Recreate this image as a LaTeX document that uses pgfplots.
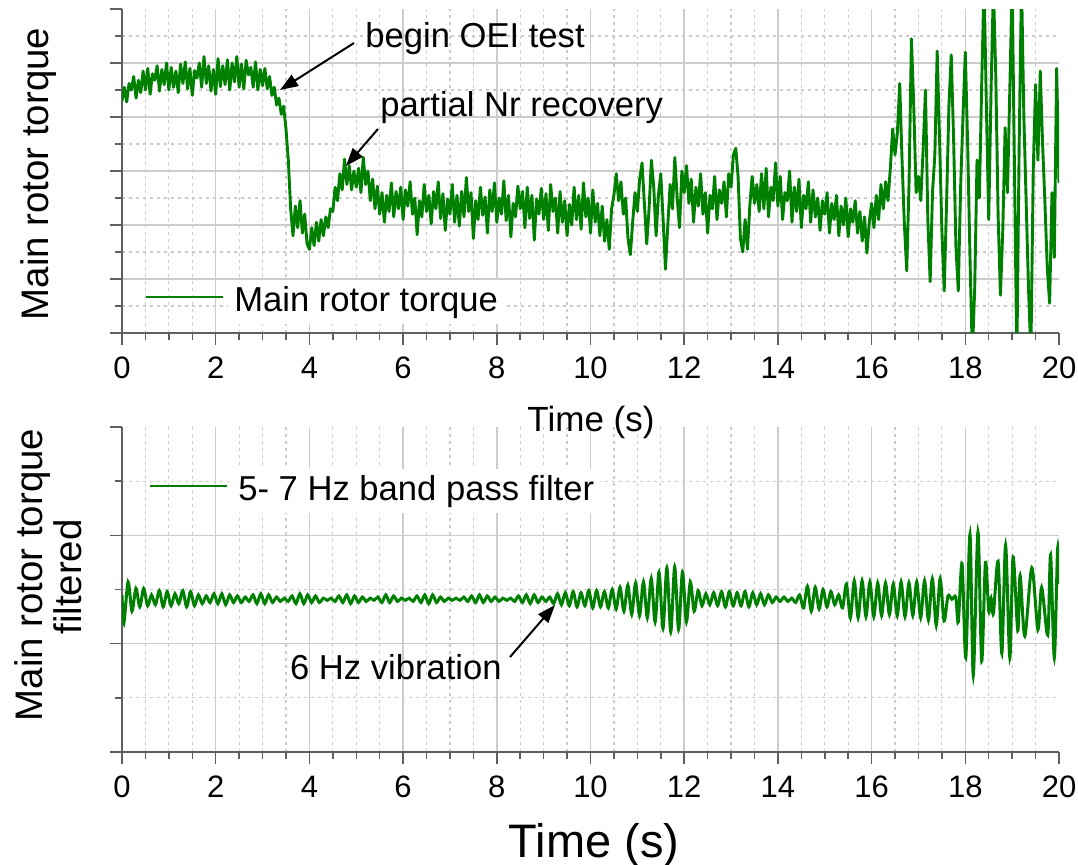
\documentclass[border=0pt]{standalone}
\usepackage{pgfplots}
\pgfplotsset{compat=1.18}
\usepackage{fontspec}
\setmainfont{Liberation Sans}
\usetikzlibrary{arrows.meta}

\definecolor{trace}{RGB}{0,128,0}
\definecolor{gridgray}{RGB}{204,204,204}
\definecolor{axisgray}{RGB}{95,95,95}
\setlength{\fboxsep}{3pt}

\pgfplotsset{
  panel/.style={
    scale only axis, width=468.5pt,
    xmin=0, xmax=20,
    axis lines*=left,
    axis line style={axisgray, line width=0.75pt},
    x axis line style={shorten <=-6pt},
    tick align=outside,
    major tick length=6pt, minor tick length=3.5pt,
    tick style={axisgray, line width=0.75pt},
    xtick={0,2,...,18}, extra x ticks={20},
    extra x tick style={grid=none},
    minor xtick={0.5,1,1.5,2.5,3,3.5,4.5,5,5.5,6.5,7,7.5,8.5,9,9.5,10.5,11,11.5,12.5,13,13.5,14.5,15,15.5,16.5,17,17.5,18.5,19,19.5},
    grid=both,
    major grid style={gridgray, line width=0.75pt},
    minor grid style={gridgray, line width=0.6pt, dash pattern=on 1.5pt off 2pt},
    tick label style={font=\fontsize{15.5}{18}\selectfont, text=black},
    xticklabel style={yshift=-2.5pt},
    /pgf/number format/assume math mode=true,
    yticklabels={}, extra y tick labels={},
    extra y tick style={grid=none},
    clip mode=individual,
    legend image code/.code={\draw[trace, line width=1pt] (0pt,0pt) -- (38.5pt,0pt);},
    legend style={draw=none, fill=none, inner sep=0pt, anchor=west,
      column sep=2pt, nodes={inner sep=0pt},
      font=\fontsize{17.3}{20}\selectfont},
    legend cell align=left,
  }
}

\begin{document}
\begin{tikzpicture}
\useasboundingbox (0,0) rectangle (539pt,-432.5pt);

% ---------------- upper panel: raw torque ----------------
\begin{axis}[panel, at={(61pt,-166.5pt)}, anchor=south west, height=162pt,
  ymin=0, ymax=6, ytick={0,...,5}, extra y ticks={6},
  minor ytick={0.5,1.5,...,5.5},
  legend style={at={(axis description cs:0.0245,0.111)}}]
\addplot[trace, line width=1.45pt, line join=round] coordinates {
(0.00,4.30)(0.05,4.55)(0.10,4.28)(0.15,4.62)(0.20,4.50)(0.25,4.75)(0.30,4.35)(0.35,4.68)(0.40,4.45)(0.45,4.85)(0.50,4.50)(0.55,4.90)(0.60,4.42)(0.65,4.80)(0.70,4.68)(0.75,4.95)(0.80,4.48)(0.85,4.88)(0.90,4.60)(0.95,5.00)
(1.00,4.50)(1.05,4.92)(1.10,4.55)(1.15,4.85)(1.20,4.45)(1.25,4.98)(1.30,4.62)(1.35,5.02)(1.40,4.52)(1.45,4.90)(1.50,4.40)(1.55,4.86)(1.60,4.72)(1.65,5.00)(1.70,4.55)(1.75,5.12)(1.80,4.62)(1.85,4.95)(1.90,4.48)(1.95,4.88)
(2.00,4.42)(2.05,5.08)(2.10,4.56)(2.15,4.95)(2.20,4.60)(2.25,5.06)(2.30,4.50)(2.35,5.00)(2.40,4.65)(2.45,5.12)(2.50,4.55)(2.55,4.98)(2.60,4.52)(2.65,5.05)(2.70,4.78)(2.75,4.92)(2.80,4.55)(2.85,5.02)(2.90,4.50)(2.95,4.88)
(3.00,4.58)(3.05,4.90)(3.10,4.52)(3.15,4.75)(3.20,4.40)(3.25,4.55)(3.30,4.22)(3.35,4.35)(3.40,4.05)(3.45,4.20)(3.50,3.78)(3.55,3.20)(3.60,2.30)(3.65,1.80)(3.70,2.35)(3.75,1.95)(3.80,2.45)(3.85,1.85)(3.90,2.20)(3.95,1.65)
(4.00,1.55)(4.05,1.95)(4.10,1.62)(4.15,2.05)(4.20,1.70)(4.25,2.10)(4.30,1.80)(4.35,2.15)(4.40,1.95)(4.45,2.30)(4.50,2.25)(4.55,2.70)(4.60,2.45)(4.65,2.95)(4.70,2.65)(4.75,3.22)(4.80,2.75)(4.85,3.10)(4.90,2.65)(4.95,3.00)
(5.00,2.70)(5.05,3.05)(5.10,2.60)(5.15,3.25)(5.20,2.75)(5.25,3.00)(5.30,2.45)(5.35,2.85)(5.40,2.30)(5.45,2.72)(5.50,2.20)(5.55,2.60)(5.60,2.05)(5.65,2.55)(5.70,2.25)(5.75,2.78)(5.80,2.15)(5.85,2.62)(5.90,2.30)(5.95,2.70)
(6.00,2.10)(6.05,2.65)(6.10,2.35)(6.15,2.80)(6.20,2.20)(6.25,2.50)(6.30,1.82)(6.35,2.45)(6.40,2.15)(6.45,2.75)(6.50,2.25)(6.55,2.55)(6.60,2.02)(6.65,2.62)(6.70,2.30)(6.75,2.80)(6.80,2.12)(6.85,2.58)(6.90,1.90)(6.95,2.48)
(7.00,2.20)(7.05,2.75)(7.10,2.05)(7.15,2.55)(7.20,1.98)(7.25,2.62)(7.30,2.15)(7.35,2.88)(7.40,2.25)(7.45,2.60)(7.50,1.75)(7.55,2.45)(7.60,2.10)(7.65,2.70)(7.70,2.18)(7.75,2.52)(7.80,1.85)(7.85,2.65)(7.90,2.25)(7.95,2.78)
(8.00,2.05)(8.05,2.50)(8.10,2.20)(8.15,2.82)(8.20,2.08)(8.25,2.55)(8.30,1.78)(8.35,2.40)(8.40,2.15)(8.45,2.72)(8.50,2.30)(8.55,2.62)(8.60,1.95)(8.65,2.70)(8.70,2.12)(8.75,2.55)(8.80,1.72)(8.85,2.48)(8.90,2.20)(8.95,2.68)
(9.00,2.10)(9.05,2.58)(9.10,1.90)(9.15,2.75)(9.20,2.25)(9.25,2.50)(9.30,1.85)(9.35,2.62)(9.40,2.05)(9.45,2.45)(9.50,1.80)(9.55,2.38)(9.60,2.00)(9.65,2.70)(9.70,2.10)(9.75,2.55)(9.80,1.92)(9.85,2.78)(9.90,2.15)(9.95,2.50)
(10.00,1.85)(10.05,2.65)(10.10,2.05)(10.15,2.40)(10.20,1.80)(10.25,2.35)(10.30,1.70)(10.35,2.10)(10.40,1.55)(10.45,2.30)(10.50,2.55)(10.55,2.95)(10.60,2.45)(10.65,2.80)(10.70,2.20)(10.75,2.50)(10.80,1.75)(10.85,1.45)(10.90,2.05)(10.95,2.60)
(11.00,2.25)(11.05,2.85)(11.10,3.15)(11.15,2.40)(11.20,1.65)(11.25,2.30)(11.30,3.20)(11.35,2.70)(11.40,1.80)(11.45,2.55)(11.50,2.95)(11.55,2.10)(11.60,1.18)(11.65,2.00)(11.70,2.75)(11.75,2.30)(11.80,3.25)(11.85,2.50)(11.90,1.95)(11.95,3.00)
(12.00,2.60)(12.05,3.10)(12.10,2.40)(12.15,2.85)(12.20,2.05)(12.25,2.70)(12.30,2.35)(12.35,2.95)(12.40,2.20)(12.45,2.60)(12.50,1.85)(12.55,2.55)(12.60,2.30)(12.65,2.90)(12.70,2.10)(12.75,2.65)(12.80,2.40)(12.85,2.80)(12.90,2.15)(12.95,2.95)
(13.00,2.70)(13.05,3.30)(13.10,3.42)(13.15,2.90)(13.20,1.75)(13.25,1.50)(13.30,2.10)(13.35,1.55)(13.40,2.35)(13.45,2.90)(13.50,2.40)(13.55,2.75)(13.60,2.25)(13.65,2.95)(13.70,2.30)(13.75,3.05)(13.80,2.15)(13.85,2.70)(13.90,2.45)(13.95,3.15)
(14.00,2.35)(14.05,2.90)(14.10,2.10)(14.15,2.60)(14.20,2.45)(14.25,3.00)(14.30,2.05)(14.35,2.70)(14.40,2.25)(14.45,2.85)(14.50,1.95)(14.55,2.55)(14.60,2.30)(14.65,2.80)(14.70,2.05)(14.75,2.65)(14.80,2.15)(14.85,2.50)(14.90,1.90)(14.95,2.45)
(15.00,2.20)(15.05,2.60)(15.10,1.85)(15.15,2.40)(15.20,2.10)(15.25,2.55)(15.30,1.80)(15.35,2.35)(15.40,2.00)(15.45,2.50)(15.50,1.78)(15.55,2.30)(15.60,2.05)(15.65,2.45)(15.70,1.85)(15.75,2.25)(15.80,1.70)(15.85,2.15)(15.90,1.48)(15.95,2.05)
(16.00,2.40)(16.05,1.95)(16.10,2.55)(16.15,2.10)(16.20,2.75)(16.25,2.30)(16.30,2.80)(16.35,2.45)(16.40,3.05)(16.45,3.78)(16.50,3.30)(16.55,3.70)(16.60,4.62)(16.65,3.20)(16.70,2.00)(16.75,1.15)(16.80,2.80)(16.85,5.45)(16.90,4.20)(16.95,2.60)
(17.00,2.90)(17.05,2.45)(17.10,3.40)(17.15,4.50)(17.20,2.10)(17.25,0.95)(17.30,2.60)(17.35,3.30)(17.40,5.22)(17.45,3.60)(17.50,1.90)(17.55,0.78)(17.60,2.40)(17.65,4.20)(17.70,5.15)(17.75,3.60)(17.80,1.60)(17.85,0.78)(17.90,2.70)(17.95,4.00)
(18.00,5.20)(18.05,3.50)(18.10,1.40)(18.15,-0.40)(18.20,0.80)(18.25,3.20)(18.30,2.50)(18.35,4.60)(18.40,6.50)(18.45,4.20)(18.50,2.10)(18.55,4.50)(18.60,6.40)(18.65,4.80)(18.70,2.20)(18.75,0.70)(18.80,1.90)(18.85,3.80)(18.90,2.60)(18.95,4.50)
(19.00,6.50)(19.05,3.00)(19.10,-0.50)(19.15,3.50)(19.20,6.50)(19.25,4.00)(19.30,2.40)(19.35,0.80)(19.40,-0.40)(19.45,3.00)(19.50,4.60)(19.55,3.20)(19.60,4.85)(19.65,3.50)(19.70,2.40)(19.75,1.20)(19.80,0.55)(19.85,2.60)(19.90,1.40)(19.95,4.90)(20.00,2.78)
};
\addlegendentry{\colorbox{white}{Main rotor torque}}
\end{axis}

% ---------------- lower panel: band-pass filtered torque ----------------
\begin{axis}[panel, at={(61pt,-376pt)}, anchor=south west, height=162.5pt,
  ymin=0, ymax=3, ytick={0,1,2}, extra y ticks={3},
  minor ytick={0.5,1.5,2.5},
  legend style={at={(axis description cs:0.0288,0.818)}}]
\addplot[trace, line width=1.5pt, smooth] coordinates {
(0,1.45)(0.04,1.19)(0.13,1.57)(0.213,1.30)(0.297,1.51)(0.38,1.34)(0.463,1.51)(0.547,1.35)(0.63,1.45)(0.713,1.36)(0.797,1.49)(0.88,1.34)(0.963,1.48)
(1.047,1.35)(1.13,1.46)(1.213,1.37)(1.297,1.49)(1.38,1.34)(1.463,1.48)(1.547,1.35)(1.63,1.45)(1.713,1.37)(1.797,1.44)(1.88,1.38)(1.963,1.46)
(2.047,1.37)(2.13,1.46)(2.213,1.36)(2.297,1.45)(2.38,1.38)(2.463,1.44)(2.547,1.38)(2.63,1.43)(2.713,1.39)(2.797,1.45)(2.88,1.37)(2.963,1.46)
(3.047,1.37)(3.13,1.45)(3.213,1.38)(3.297,1.43)(3.38,1.39)(3.463,1.42)(3.547,1.39)(3.63,1.44)(3.713,1.37)(3.797,1.46)(3.88,1.37)(3.963,1.45)
(4.047,1.38)(4.13,1.44)(4.213,1.38)(4.297,1.42)(4.38,1.40)(4.463,1.42)(4.547,1.39)(4.63,1.44)(4.713,1.38)(4.797,1.45)(4.88,1.37)(4.963,1.44)
(5.047,1.38)(5.13,1.43)(5.213,1.39)(5.297,1.42)(5.38,1.40)(5.463,1.43)(5.547,1.38)(5.63,1.45)(5.713,1.38)(5.797,1.44)(5.88,1.39)(5.963,1.42)
(6.047,1.40)(6.13,1.42)(6.213,1.39)(6.297,1.44)(6.38,1.38)(6.463,1.45)(6.547,1.37)(6.63,1.45)(6.713,1.38)(6.797,1.43)(6.88,1.39)(6.963,1.42)
(7.047,1.40)(7.13,1.42)(7.213,1.40)(7.297,1.43)(7.38,1.39)(7.463,1.44)(7.547,1.38)(7.63,1.45)(7.713,1.38)(7.797,1.44)(7.88,1.39)(7.963,1.43)
(8.047,1.39)(8.13,1.42)(8.213,1.40)(8.297,1.42)(8.38,1.39)(8.463,1.44)(8.547,1.38)(8.63,1.45)(8.713,1.37)(8.797,1.45)(8.88,1.38)(8.963,1.43)
(9.047,1.39)(9.13,1.43)(9.213,1.37)(9.297,1.46)(9.38,1.36)(9.463,1.47)(9.547,1.35)(9.63,1.48)(9.713,1.34)(9.797,1.47)(9.88,1.35)(9.963,1.49)
(10.047,1.33)(10.13,1.49)(10.213,1.34)(10.297,1.48)(10.38,1.33)(10.463,1.50)(10.547,1.32)(10.63,1.52)(10.713,1.30)(10.797,1.54)(10.88,1.27)(10.963,1.56)
(11.047,1.26)(11.13,1.57)(11.213,1.24)(11.297,1.60)(11.38,1.20)(11.463,1.66)(11.547,1.14)(11.63,1.70)(11.713,1.11)(11.797,1.71)(11.88,1.13)(11.963,1.66)
(12.047,1.20)(12.13,1.57)(12.213,1.30)(12.297,1.49)(12.38,1.35)(12.463,1.46)(12.547,1.36)(12.63,1.47)(12.713,1.35)(12.797,1.48)(12.88,1.34)(12.963,1.48)
(13.047,1.35)(13.13,1.47)(13.213,1.35)(13.297,1.48)(13.38,1.34)(13.463,1.47)(13.547,1.36)(13.63,1.46)(13.713,1.36)(13.797,1.45)(13.88,1.38)(13.963,1.43)
(14.047,1.39)(14.13,1.43)(14.213,1.39)(14.297,1.42)(14.38,1.38)(14.463,1.45)(14.547,1.33)(14.63,1.53)(14.713,1.30)(14.797,1.52)(14.88,1.32)(14.963,1.50)
(15.047,1.34)(15.13,1.48)(15.213,1.36)(15.297,1.45)(15.38,1.33)(15.463,1.55)(15.547,1.24)(15.63,1.58)(15.713,1.24)(15.797,1.58)(15.88,1.25)(15.963,1.57)
(16.047,1.25)(16.13,1.56)(16.213,1.26)(16.297,1.56)(16.38,1.27)(16.463,1.55)(16.547,1.26)(16.63,1.57)(16.713,1.25)(16.797,1.56)(16.88,1.26)(16.963,1.57)
(17.047,1.24)(17.13,1.58)(17.213,1.22)(17.297,1.60)(17.38,1.17)(17.463,1.60)(17.547,1.21)(17.63,1.44)(17.713,1.41)(17.797,1.43)(17.85,1.20)(17.93,1.74)
(18.01,0.87)(18.10,2.01)(18.17,0.71)(18.27,2.03)(18.35,0.84)(18.43,1.75)(18.50,1.30)(18.55,1.42)(18.60,1.28)(18.70,1.76)(18.78,0.91)(18.86,1.91)(18.95,0.87)
(19.02,1.80)(19.12,1.12)(19.17,1.63)(19.27,1.07)(19.42,1.70)(19.55,1.13)(19.63,1.52)(19.76,1.08)(19.82,1.82)(19.90,0.87)(19.97,1.88)(20.0,1.55)
};
\addlegendentry{\colorbox{white}{5- 7 Hz band pass filter}}
\end{axis}

% ---------------- labels and call-outs (pixel grid, y downwards) ----------------
\begin{scope}[x=0.5pt, y=-0.5pt]
  \node[rotate=90, anchor=base, inner sep=0pt, font=\fontsize{19.2}{23}\selectfont] at (48,174) {Main rotor torque};
  \node[rotate=90, anchor=base, inner sep=0pt, font=\fontsize{19.2}{23}\selectfont] at (42,575) {Main rotor torque};
  \node[rotate=90, anchor=base, inner sep=0pt, font=\fontsize{19.2}{23}\selectfont] at (82,577) {filtered};
  \node[anchor=base, inner sep=0pt, font=\fontsize{17.5}{21}\selectfont] at (591,432) {Time (s)};
  \node[anchor=base, inner sep=0pt, font=\fontsize{23.5}{28}\selectfont] at (594,858) {Time (s)};

  \begin{scope}[font=\fontsize{17.3}{20}\selectfont]
    \node[anchor=base west, inner sep=0pt] at (365,48) {begin OEI test};
    \node[anchor=base west, inner sep=0pt] at (380,117) {partial Nr recovery};
    \node[anchor=base east, inner sep=0pt] at (502,680) {6 Hz vibration};
  \end{scope}

  \begin{scope}[line width=1pt, -{Triangle[length=9pt, width=6.5pt]}]
    \draw (354,43) -- (280,90);
    \draw (378,129) -- (346,166);
    \draw (510,657) -- (555,605);
  \end{scope}
\end{scope}
\end{tikzpicture}
\end{document}
